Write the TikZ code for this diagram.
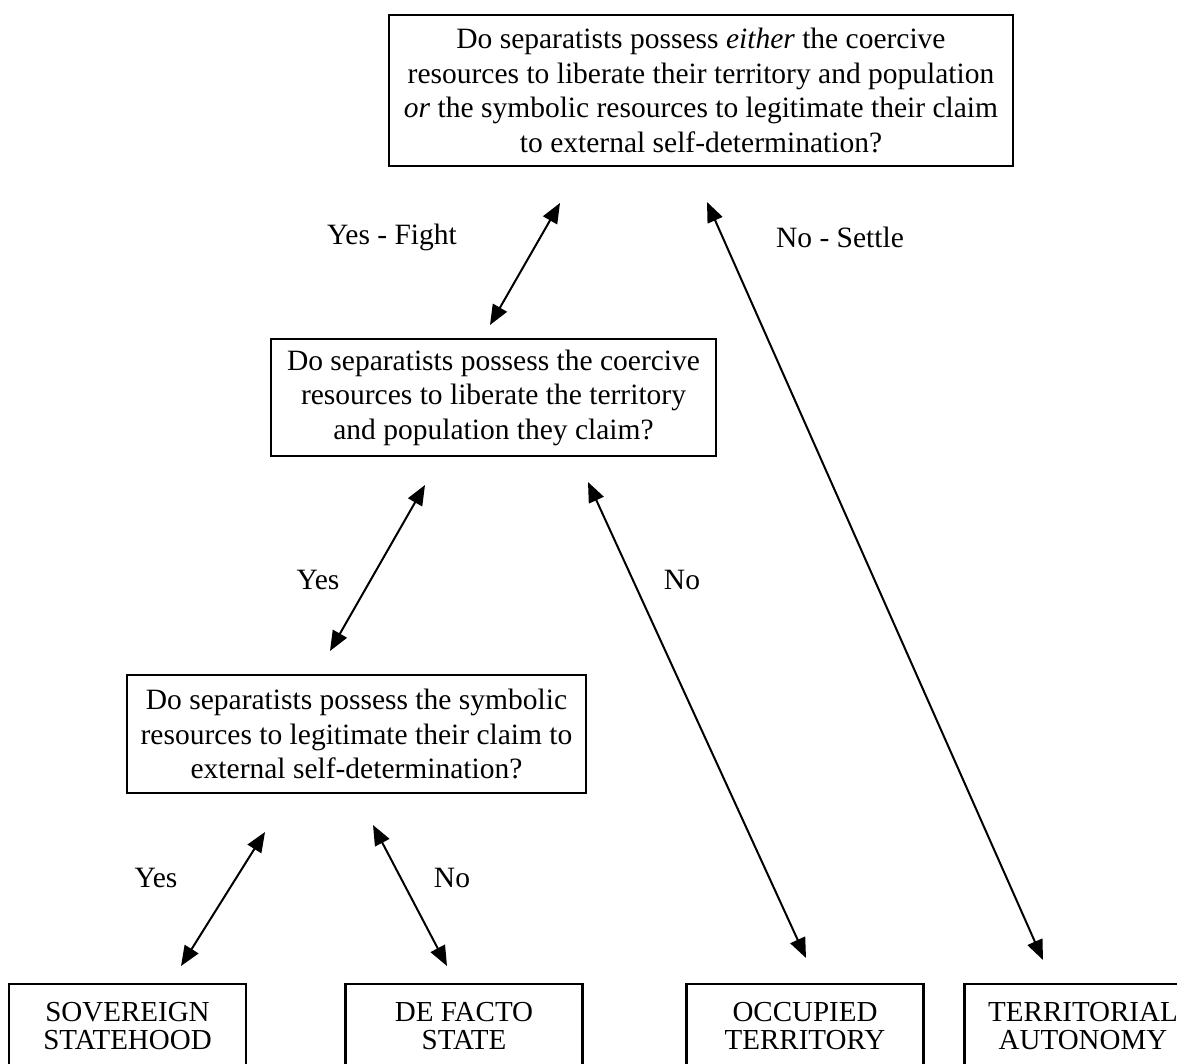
\documentclass[tikz,border=0pt]{standalone}
\usepackage{fontspec}
\setmainfont{Liberation Serif}
\usetikzlibrary{arrows.meta}
\begin{document}
\begin{tikzpicture}[x=1pt,y=-1pt,
  qbox/.style={draw=black, line width=2.4pt, inner sep=0pt, align=center,
    font=\fontsize{29.5}{34.5}\selectfont},
  endbox/.style={draw=black, line width=2.4pt, inner sep=0pt, align=center,
    minimum width=237pt, minimum height=84pt,
    font=\fontsize{29}{28.5}\selectfont},
  lbl/.style={inner sep=0pt, font=\fontsize{29.5}{34}\selectfont},
  biarrow/.style={line width=2pt, {Triangle[length=20pt,width=16pt]}-{Triangle[length=20pt,width=16pt]}}]
\useasboundingbox (0,0) rectangle (1177,1063);
\begin{scope}
\clip (0,0) rectangle (1177,1063);
% question boxes
\node[qbox, minimum width=624pt, minimum height=151pt] (q1) at (701,90.5)
  {Do separatists possess \textit{either} the coercive\\
   resources to liberate their territory and population\\
   \textit{or} the symbolic resources to legitimate their claim\\
   to external self-determination?};
\node[qbox, minimum width=445pt, minimum height=117pt] (q2) at (493.5,397.5)
  {Do separatists possess the coercive\\
   resources to liberate the territory\\
   and population they claim?};
\node[qbox, minimum width=459pt, minimum height=118pt] (q3) at (356.5,734)
  {Do separatists possess the symbolic\\
   resources to legitimate their claim to\\
   external self-determination?};
% outcome boxes
\node[endbox] (sov) at (127.5,1026) {SOVEREIGN\\STATEHOOD};
\node[endbox] (dfs) at (464,1026) {DE FACTO\\STATE};
\node[endbox] (occ) at (805,1026) {OCCUPIED\\TERRITORY};
\node[endbox] (ter) at (1083,1026) {TERRITORIAL\\AUTONOMY};
% arrow end points
\coordinate (a1t) at (560,203);  \coordinate (a1b) at (490,325);
\coordinate (a2t) at (707,202);  \coordinate (a2b) at (1043,960);
\coordinate (a3t) at (425,485);  \coordinate (a3b) at (330,651);
\coordinate (a4t) at (588,482);  \coordinate (a4b) at (806,958);
\coordinate (a5t) at (265,832);  \coordinate (a5b) at (181,966);
\coordinate (a6t) at (373,825);  \coordinate (a6b) at (447,966);
\draw[biarrow] (a1t) -- (a1b);
\draw[biarrow] (a2t) -- (a2b);
\draw[biarrow] (a3t) -- (a3b);
\draw[biarrow] (a4t) -- (a4b);
\draw[biarrow] (a5t) -- (a5b);
\draw[biarrow] (a6t) -- (a6b);
% labels
\node[lbl] (l1) at (392,237) {Yes - Fight};
\node[lbl] (l2) at (840,237) {No - Settle};
\node[lbl] (l3) at (318,580) {Yes};
\node[lbl] (l4) at (682,580) {No};
\node[lbl] (l5) at (156,878) {Yes};
\node[lbl] (l6) at (452,878) {No};
\end{scope}
\end{tikzpicture}
\end{document}
